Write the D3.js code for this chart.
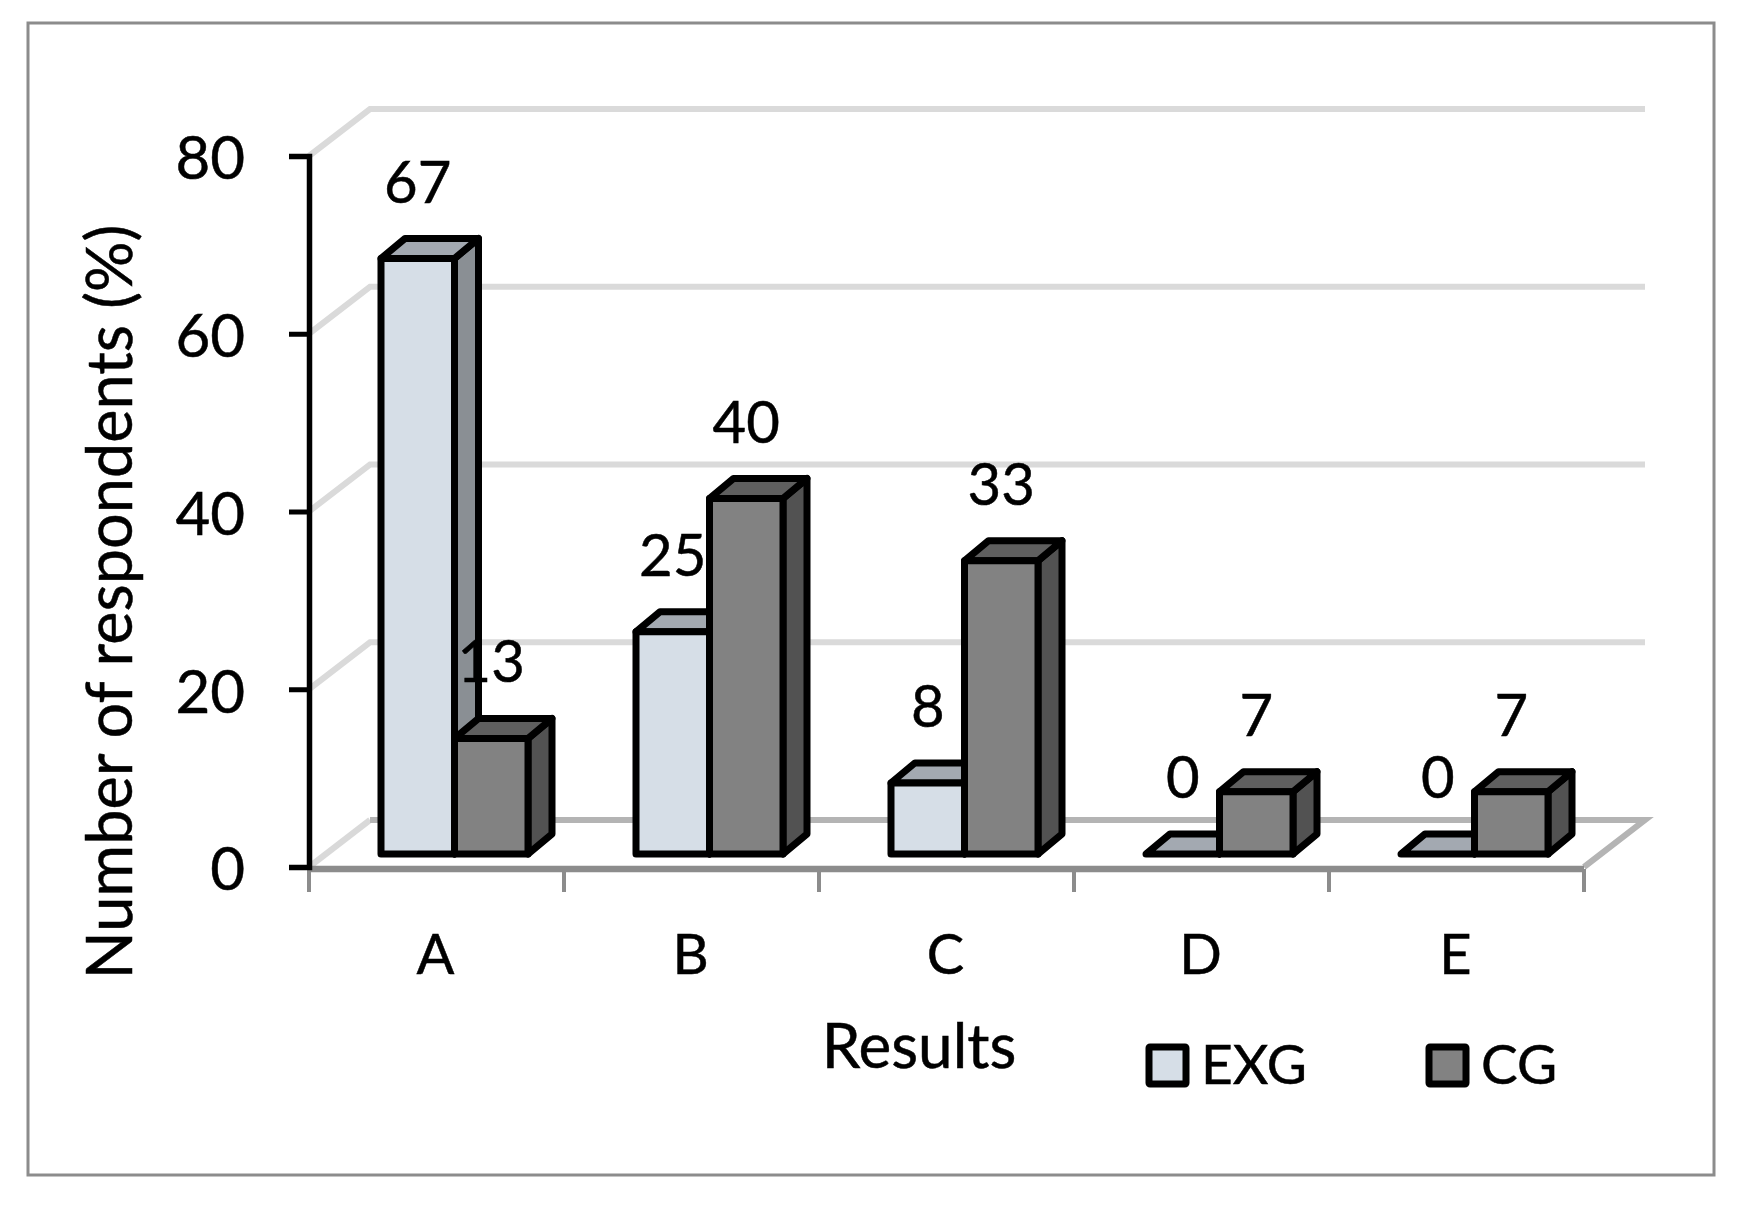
<!DOCTYPE html>
<html><head><meta charset="utf-8">
<script src="https://cdn.jsdelivr.net/npm/d3@7"></script>
<style>html,body{margin:0;padding:0;background:#fff}svg{display:block}text{font-family:Lato,"Open Sans",sans-serif;fill:#000;stroke:#000;stroke-width:.5px}</style>
</head><body><div id="c"></div>
<script>
const categories = ["A","B","C","D","E"];
const seriesNames = ["EXG","CG"];
const exg = [67,25,8,0,0];
const cg = [13,40,33,7,7];
const yTicks = [0,20,40,60,80];
const colors = {EXG:{front:"#d6dee7",top:"#a3a9b1",side:"#8a8f94"},CG:{front:"#828282",top:"#5f5f5f",side:"#525252"}};
const W=1743,H=1209;
const svg=d3.select("#c").append("svg").attr("width",W).attr("height",H);
svg.append("rect").attr("x",28).attr("y",23).attr("width",1686).attr("height",1152).attr("fill","#fff").attr("stroke","#8c8c8c").attr("stroke-width",3);
const y=d3.scaleLinear().domain([0,80]).range([867,156]);
const x=d3.scaleBand().domain(categories).range([309,1584]);
const wallDx=61,wallDy=-47;
const barWidth=73.5,barInset=72,depthX=24,depthY=20,baseShift=-13;
const g=svg.append("g");
// walls
yTicks.filter(d=>d>0).forEach(v=>{
  g.append("path").attr("fill","none").attr("stroke","#dadada").attr("stroke-width",6)
   .attr("d",d3.line()([[x.range()[0],y(v)],[x.range()[0]+wallDx,y(v)+wallDy],[x.range()[1]+wallDx,y(v)+wallDy]]));
});
// floor
g.append("path").attr("fill","none").attr("stroke","#d9d9d9").attr("stroke-width",6)
 .attr("d",d3.line()([[x.range()[0],y(0)],[x.range()[0]+wallDx,y(0)+wallDy]]));
g.append("path").attr("fill","none").attr("stroke","#b4b4b4").attr("stroke-width",6)
 .attr("d",d3.line()([[x.range()[0]+wallDx,y(0)+wallDy],[x.range()[1]+wallDx,y(0)+wallDy],[x.range()[1],y(0)]]));
// x axis
const xAxis=g.append("g").attr("transform",`translate(0,${y(0)+2})`);
xAxis.append("line").attr("x1",309).attr("x2",1584).attr("stroke","#8c8c8c").attr("stroke-width",6.5);
xAxis.selectAll("line.t").data(categories.map(c=>x(c)).concat(x.range()[1])).join("line").attr("class","t")
 .attr("x1",d=>d).attr("x2",d=>d).attr("y1",0).attr("y2",23).attr("stroke","#8c8c8c").attr("stroke-width",4);
g.selectAll("text.cat").data(categories).join("text").attr("class","cat")
 .attr("x",d=>x(d)+x.bandwidth()/2-1).attr("y",974).attr("text-anchor","middle").attr("font-size",56).text(d=>d);
// y axis
const yAxis=g.append("g").attr("transform","translate(309,0)")
 .call(d3.axisLeft(y).tickValues(yTicks).tickSize(20).tickPadding(44));
yAxis.select(".domain").attr("stroke","#000").attr("stroke-width",5.5);
yAxis.selectAll(".tick line").attr("stroke","#000").attr("stroke-width",5);
yAxis.selectAll("text").attr("font-size",60).attr("font-family","Lato").attr("dy","0.38em");
// bars
const rows=categories.map((c,i)=>({c,vals:[{s:"EXG",v:exg[i],k:0},{s:"CG",v:cg[i],k:1}]}));
const groups=g.selectAll("g.grp").data(rows).join("g").attr("class","grp");
const line=d3.line();
const base=y(0)+baseShift;
groups.each(function(r){
  const sel=d3.select(this);
  r.vals.forEach(d=>{
    const x0=x(r.c)+barInset+d.k*barWidth,x1=x0+barWidth,t=y(d.v)+baseShift;
    const st={stroke:"#000","stroke-width":7,"stroke-linejoin":"round"};
    const add=(pts,fill)=>{const p=sel.append("path").attr("d",line(pts)+"Z").attr("fill",fill);Object.entries(st).forEach(([k,v])=>p.attr(k,v));};
    add([[x1,t],[x1+depthX,t-depthY],[x1+depthX,base-depthY],[x1,base]],colors[d.s].side);
    add([[x0,t],[x0+depthX,t-depthY],[x1+depthX,t-depthY],[x1,t]],colors[d.s].top);
    if(d.v>0) add([[x0,t],[x1,t],[x1,base],[x0,base]],colors[d.s].front);
  });
});
// value labels
g.selectAll("text.val").data(rows.flatMap(r=>r.vals.map(d=>({...d,c:r.c})))).join("text").attr("class","val")
 .attr("x",d=>x(d.c)+barInset+d.k*barWidth+barWidth/2).attr("y",d=>y(d.v)+baseShift-77+21)
 .attr("text-anchor","middle").attr("font-size",58).text(d=>d.v);
// titles
svg.append("text").attr("x",919).attr("y",1068).attr("text-anchor","middle").attr("font-size",62).text("Results");
svg.append("text").attr("transform","translate(132,602) rotate(-90)").attr("text-anchor","middle").attr("font-size",63).text("Number of respondents (%)");
// legend
const lx=[1149,1429],tx=[1201,1481];
seriesNames.forEach((s,i)=>{
  svg.append("rect").attr("x",lx[i]).attr("y",1047).attr("width",37).attr("height",37).attr("fill",colors[s].front).attr("stroke","#000").attr("stroke-width",7).attr("rx",1);
  svg.append("text").attr("x",tx[i]).attr("y",1084).attr("font-size",55).text(s);
});
</script></body></html>
